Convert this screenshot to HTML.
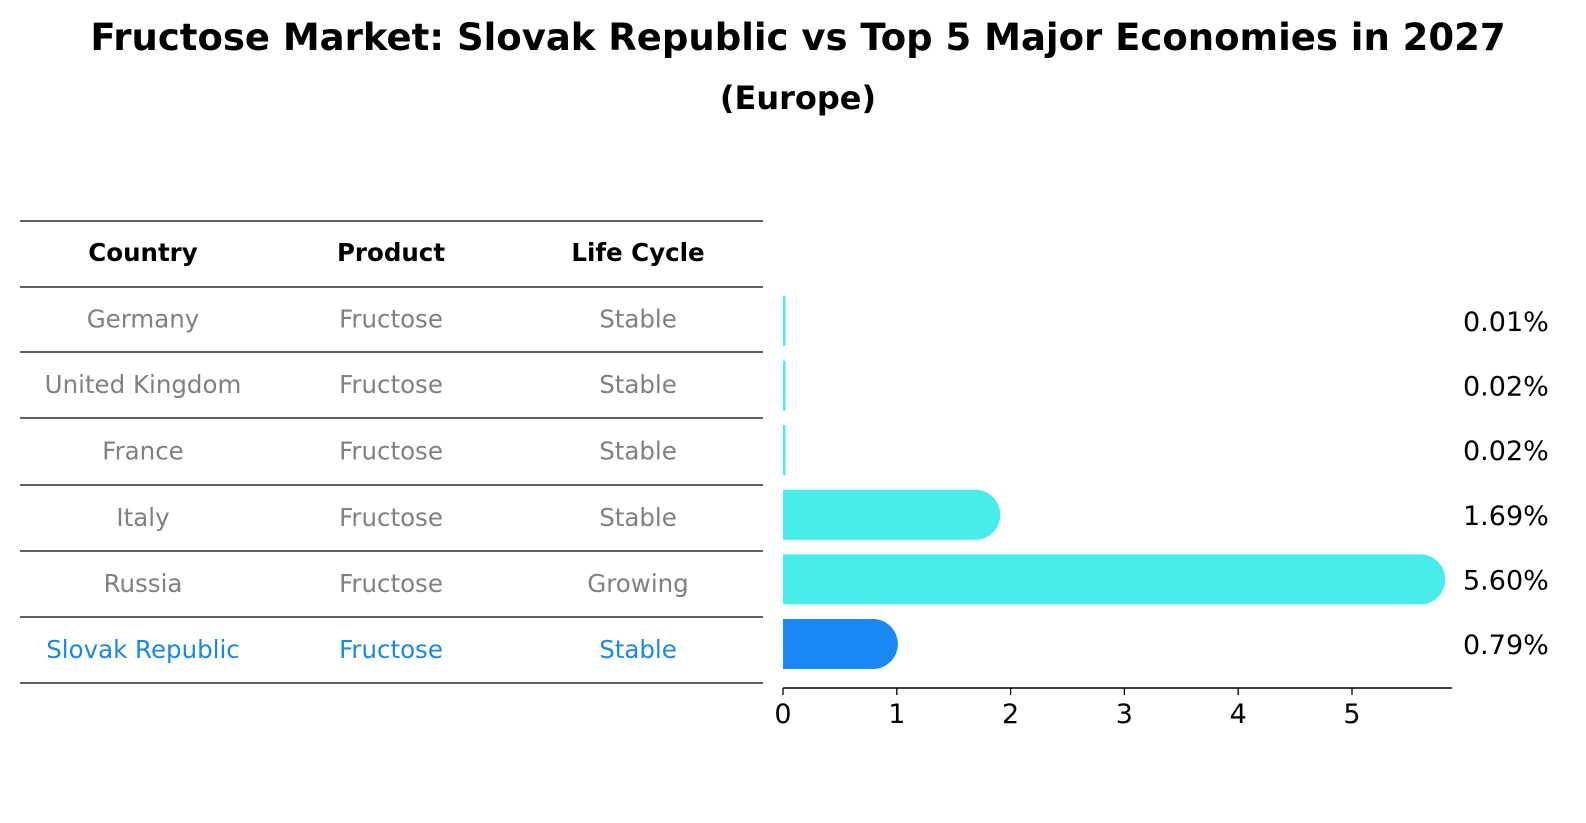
<!DOCTYPE html>
<html><head><meta charset="utf-8"><style>
body{margin:0;background:#fff;font-family:"Liberation Sans","DejaVu Sans",sans-serif;overflow:hidden;}
svg{display:block;}
svg text{font-family:"DejaVu Sans","Liberation Sans",sans-serif;}
</style></head><body>
<svg id="c" width="1586" height="823" viewBox="0 0 1586 823" xmlns="http://www.w3.org/2000/svg">
<text x="798" y="50" text-anchor="middle" font-size="37" font-weight="bold">Fructose Market: Slovak Republic vs Top 5 Major Economies in 2027</text>
<text x="798" y="109" text-anchor="middle" font-size="32" font-weight="bold">(Europe)</text>
<g id="tbl"></g>
<g id="bars"></g>
</svg>
<script>
const countries=["Germany","United Kingdom","France","Italy","Russia","Slovak Republic"];
const products=["Fructose","Fructose","Fructose","Fructose","Fructose","Fructose"];
const lifeCycles=["Stable","Stable","Stable","Stable","Growing","Stable"];
const values=[0.01,0.02,0.02,1.69,5.60,0.79];
const valueLabels=["0.01%","0.02%","0.02%","1.69%","5.60%","0.79%"];
const ticks=[0,1,2,3,4,5];
const NS="http://www.w3.org/2000/svg";
const tbl=document.getElementById('tbl'),bars=document.getElementById('bars');
function mk(t,a,p){const e=document.createElementNS(NS,t);for(const k in a)e.setAttribute(k,a[k]);p.appendChild(e);return e;}
const x0=783,ppu=113.8;
const xs=v=>x0+v*ppu;
const rowY=i=>321+i*64.6;
const lineYs=[221,287,352,418,485,551,617,683];
lineYs.forEach(y=>{const l=mk('line',{x1:20,x2:763,y1:y,y2:y,stroke:'#000','stroke-width':1.2},tbl);

});
const colX=[143,391,638];
["Country","Product","Life Cycle"].forEach((h,j)=>{const t=mk('text',{x:colX[j],y:261,'text-anchor':'middle','font-size':24.5,'font-weight':'bold'},tbl);t.textContent=h;

});
countries.forEach((c,i)=>{
 const y=(lineYs[i+1]+lineYs[i+2])/2+8;
 const col=i===5?'#1a88e6':'#808080';
 [c,products[i],lifeCycles[i]].forEach((s,j)=>{const t=mk('text',{x:colX[j],y:y,'text-anchor':'middle','font-size':24.5,fill:col},tbl);t.textContent=s;
 
 });
 const cy=rowY(i),h=50,r=25;
 const w=xs(values[i])-x0;
 const fill=i===5?'#1a88f4':'#48ecea';
 let d;
 if(w<r){const ww=Math.max(w,2.5);d=`M${x0},${cy-h/2}h${ww}v${h}h${-ww}z`;}
 else d=`M${x0},${cy-h/2}h${w}a${r},${r} 0 0 1 0,${h}h${-w}z`;
 const b=mk('path',{d:d,fill:fill},bars);
 
 
 const vt=mk('text',{x:1463,y:cy+10,'font-size':27},bars);vt.textContent=valueLabels[i];
 
 
});
const ax=mk('line',{x1:x0,x2:1452,y1:688,y2:688,stroke:'#000','stroke-width':1.5},bars);


ticks.forEach(v=>{const tk=mk('line',{x1:xs(v),x2:xs(v),y1:688,y2:695,stroke:'#000','stroke-width':1.3},bars);


const t=mk('text',{x:xs(v),y:723,'text-anchor':'middle','font-size':27},bars);t.textContent=v;

});
</script>
</body></html>
